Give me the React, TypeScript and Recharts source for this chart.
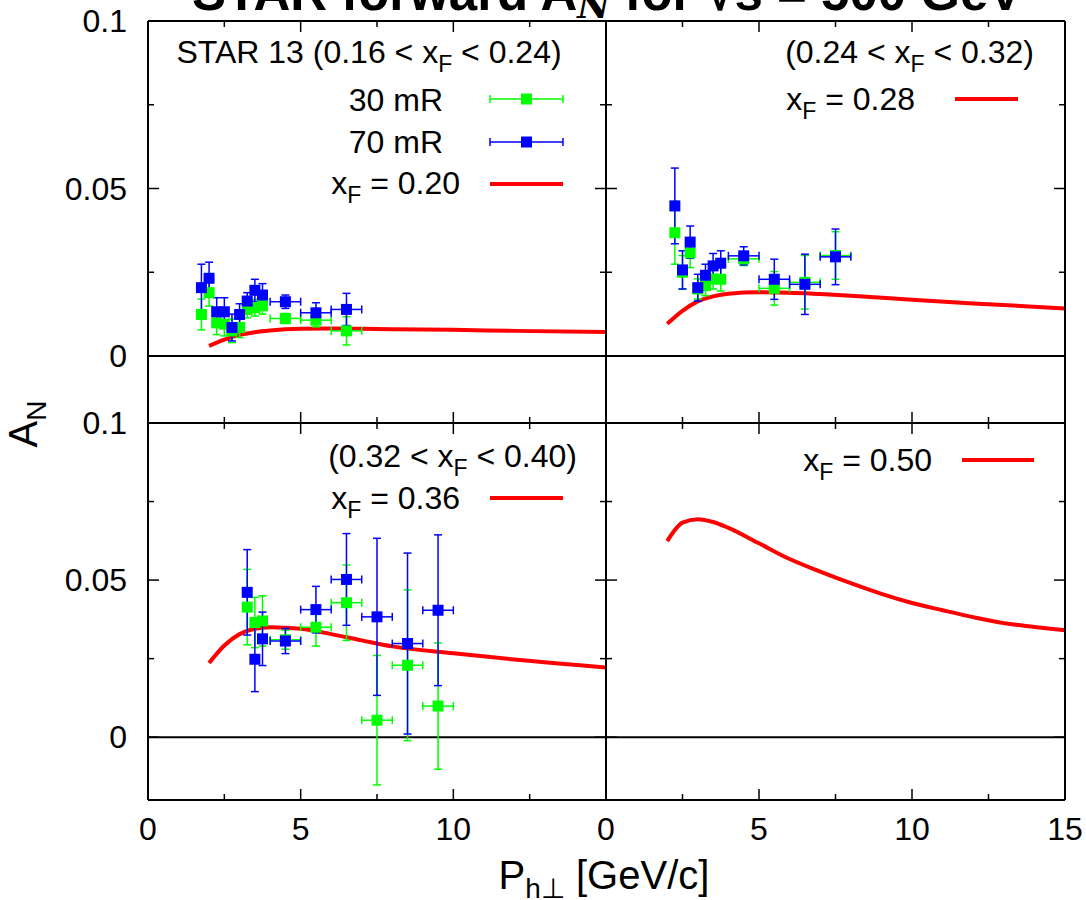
import React from 'react'
import {
  ComposedChart,
  Scatter,
  Line,
  XAxis,
  YAxis,
  ErrorBar,
  ReferenceLine,
} from 'recharts'

const W = 1086
const H = 900
const FONT = '"Liberation Sans", Arial, Helvetica, sans-serif'
const GREEN = '#00ff00'
const BLUE = '#0000ff'
const RED = '#ff0000'

const X_TICKS = [0, 2.5, 5, 7.5, 10, 12.5, 15]
const Y_TICKS = [0, 0.025, 0.05, 0.075, 0.1]

// 0.16 < xF < 0.24
const ptA = [1.75, 2.0, 2.25, 2.5, 2.75, 3.0, 3.25, 3.5, 3.75, 4.5, 5.5, 6.5]
const ptErrA = [0.125, 0.125, 0.125, 0.125, 0.125, 0.125, 0.125, 0.125, 0.125, 0.5, 0.5, 0.5]
const an30A = [0.0124, 0.0189, 0.0099, 0.0095, 0.0075, 0.0085, 0.0139, 0.0144, 0.015, 0.0112, 0.0107, 0.0075]
const err30A = [0.0046, 0.004, 0.0035, 0.0035, 0.0035, 0.003, 0.0025, 0.0025, 0.0025, 0.0015, 0.002, 0.0042]
const an70A = [0.0204, 0.0232, 0.0132, 0.0132, 0.0085, 0.0124, 0.0164, 0.0196, 0.0182, 0.0162, 0.0129, 0.0139]
const err70A = [0.007, 0.0048, 0.0042, 0.0042, 0.004, 0.0032, 0.0025, 0.0033, 0.0034, 0.002, 0.003, 0.0048]

// 0.24 < xF < 0.32
const ptB = [2.25, 2.5, 2.75, 3.0, 3.25, 3.5, 3.75, 4.5, 5.5, 6.5, 7.5]
const ptErrB = [0.125, 0.125, 0.125, 0.125, 0.125, 0.125, 0.125, 0.5, 0.5, 0.5, 0.5]
const an30B = [0.0368, 0.025, 0.0308, 0.02, 0.021, 0.023, 0.0229, 0.029, 0.0202, 0.022, 0.03]
const err30B = [0.0094, 0.005, 0.0044, 0.003, 0.003, 0.003, 0.0035, 0.002, 0.005, 0.008, 0.0071]
const an70B = [0.0448, 0.0257, 0.034, 0.0204, 0.0241, 0.0269, 0.0277, 0.0299, 0.0229, 0.0214, 0.0296]
const err70B = [0.0113, 0.0057, 0.0048, 0.004, 0.0033, 0.0037, 0.0037, 0.0027, 0.006, 0.009, 0.0083]

// 0.32 < xF < 0.40
const ptC = [3.25, 3.5, 3.75, 4.5, 5.5, 6.5, 7.5, 8.5, 9.5]
const ptErrC = [0.125, 0.125, 0.125, 0.5, 0.5, 0.5, 0.5, 0.5, 0.5]
const an30C = [0.0414, 0.0365, 0.037, 0.031, 0.035, 0.0428, 0.0054, 0.0229, 0.0099]
const err30C = [0.012, 0.008, 0.008, 0.003, 0.006, 0.012, 0.0206, 0.024, 0.0201]
const an70C = [0.0461, 0.0248, 0.0313, 0.0306, 0.0406, 0.0502, 0.0383, 0.0298, 0.0404]
const err70C = [0.0136, 0.0103, 0.0085, 0.004, 0.0074, 0.0146, 0.025, 0.0288, 0.024]

// model curves
const curveX = [2, 2.5, 3, 3.5, 4, 5, 6, 7, 8, 10, 12, 15]
const theory20 = [0.003, 0.0049, 0.0063, 0.0071, 0.0076, 0.0081, 0.0082, 0.0081, 0.008, 0.0078, 0.0075, 0.0072]
const theory28 = [0.0096, 0.0135, 0.0163, 0.0178, 0.0186, 0.019, 0.0189, 0.0185, 0.018, 0.0168, 0.0157, 0.0142]
const theory36 = [0.0236, 0.0292, 0.0328, 0.0345, 0.035, 0.0345, 0.0328, 0.0308, 0.0289, 0.0267, 0.0247, 0.0222]
const curveX50 = [2, 2.5, 3, 3.5, 4, 5, 6, 7, 8, 9, 10, 11, 12, 13, 14, 15]
const theory50 = [0.0624, 0.0683, 0.0694, 0.0685, 0.0666, 0.0617, 0.0567, 0.0527, 0.049, 0.0456, 0.0427, 0.0404, 0.0382, 0.0363, 0.0351, 0.034]

type Pt = { x: number; y: number; xe: number; ye: number }

function points(xs: number[], xe: number[], ys: number[], ye: number[]): Pt[] {
  return xs.map((x, i) => ({ x, y: ys[i], xe: xe[i], ye: ye[i] }))
}

function curve(xs: number[], ys: number[]) {
  return xs.map((x, i) => ({ x, y: ys[i] }))
}

const isMajorX = (v: number) => Math.abs(v % 5) < 1e-9
const isMajorY = (v: number) => Math.abs(v / 0.05 - Math.round(v / 0.05)) < 1e-9

function BottomTick(props: any) {
  const { x, y, payload, labels } = props
  const v = payload.value
  const major = isMajorX(v)
  const show = major && (labels === 'all' || (labels === 'noLast' && v !== 15))
  return (
    <g>
      <line x1={x} y1={y} x2={x} y2={y - (major ? 11 : 6)} stroke="#000" strokeWidth={1.5} />
      {show && (
        <text x={x} y={y + 40} textAnchor="middle" fontSize={32} fontFamily={FONT} fill="#000">
          {v}
        </text>
      )}
    </g>
  )
}

function TopTick(props: any) {
  const { x, y, payload } = props
  const major = isMajorX(payload.value)
  return <line x1={x} y1={y} x2={x} y2={y + (major ? 11 : 6)} stroke="#000" strokeWidth={1.5} />
}

function LeftTick(props: any) {
  const { x, y, payload, labels } = props
  const v = payload.value
  const major = isMajorY(v)
  return (
    <g>
      <line x1={x} y1={y} x2={x + (major ? 11 : 6)} y2={y} stroke="#000" strokeWidth={1.5} />
      {labels && major && (
        <text x={x - 21} y={y + 11} textAnchor="end" fontSize={32} fontFamily={FONT} fill="#000">
          {v === 0 ? '0' : String(v)}
        </text>
      )}
    </g>
  )
}

function RightTick(props: any) {
  const { x, y, payload } = props
  const major = isMajorY(payload.value)
  return <line x1={x} y1={y} x2={x - (major ? 11 : 6)} y2={y} stroke="#000" strokeWidth={1.5} />
}

const square = (color: string) => (p: any) =>
  <rect x={p.cx - 5.5} y={p.cy - 5.5} width={11} height={11} fill={color} />

interface PanelProps {
  box: { left: number; top: number; right: number; bottom: number }
  xLabels: 'none' | 'all' | 'noLast'
  yLabels: boolean
  model: { x: number; y: number }[]
  set30?: Pt[]
  set70?: Pt[]
}

// each panel is a full-page chart; the margins put its plot box in place
// (every axis takes 1px, so the margins are one less)
function Panel({ box, xLabels, yLabels, model, set30, set70 }: PanelProps) {
  const axisLine = { stroke: '#000', strokeWidth: 2 }
  return (
    <div style={{ position: 'absolute', left: 0, top: 0 }}>
      <ComposedChart
        width={W}
        height={H}
        margin={{ top: box.top - 1, left: box.left - 1, right: W - box.right - 1, bottom: H - box.bottom - 1 }}
      >
        <XAxis xAxisId="b" dataKey="x" type="number" domain={[0, 15]} ticks={X_TICKS} interval={0}
          height={1} tickSize={0} tickMargin={0} tickLine={false} axisLine={axisLine}
          tick={<BottomTick labels={xLabels} />} allowDataOverflow />
        <XAxis xAxisId="t" orientation="top" dataKey="x" type="number" domain={[0, 15]} ticks={X_TICKS} interval={0}
          height={1} tickSize={0} tickMargin={0} tickLine={false} axisLine={axisLine}
          tick={<TopTick />} allowDataOverflow />
        <YAxis yAxisId="l" dataKey="y" type="number" domain={[-0.02, 0.1]} ticks={Y_TICKS} interval={0}
          width={1} tickSize={0} tickMargin={0} tickLine={false} axisLine={axisLine}
          tick={<LeftTick labels={yLabels} />} allowDataOverflow />
        <YAxis yAxisId="r" orientation="right" dataKey="y" type="number" domain={[-0.02, 0.1]} ticks={Y_TICKS} interval={0}
          width={1} tickSize={0} tickMargin={0} tickLine={false} axisLine={axisLine}
          tick={<RightTick />} allowDataOverflow />
        <ReferenceLine xAxisId="b" yAxisId="l" y={0} stroke="#000" strokeWidth={2} />
        <Line xAxisId="b" yAxisId="l" data={model} dataKey="y" type="monotone" stroke={RED}
          strokeWidth={4} dot={false} activeDot={false} isAnimationActive={false} />
        {set30 && (
          <Scatter xAxisId="b" yAxisId="l" data={set30} dataKey="y" shape={square(GREEN)} isAnimationActive={false}>
            <ErrorBar dataKey="ye" direction="y" width={4} stroke={GREEN} strokeWidth={1.5} />
            <ErrorBar dataKey="xe" direction="x" width={4} stroke={GREEN} strokeWidth={1.5} />
          </Scatter>
        )}
        {set70 && (
          <Scatter xAxisId="b" yAxisId="l" data={set70} dataKey="y" shape={square(BLUE)} isAnimationActive={false}>
            <ErrorBar dataKey="ye" direction="y" width={4} stroke={BLUE} strokeWidth={1.5} />
            <ErrorBar dataKey="xe" direction="x" width={4} stroke={BLUE} strokeWidth={1.5} />
          </Scatter>
        )}
      </ComposedChart>
    </div>
  )
}

function XF({ v }: { v: string }) {
  return (
    <>
      x<tspan dy={9} fontSize={23}>F</tspan>
      <tspan dy={-9}>{v}</tspan>
    </>
  )
}

function ErrSample({ x1, x2, y, color }: { x1: number; x2: number; y: number; color: string }) {
  const mid = (x1 + x2) / 2
  return (
    <g stroke={color} strokeWidth={1.5}>
      <line x1={x1} y1={y} x2={x2} y2={y} />
      <line x1={x1} y1={y - 4} x2={x1} y2={y + 4} />
      <line x1={x2} y1={y - 4} x2={x2} y2={y + 4} />
      <rect x={mid - 5.5} y={y - 5.5} width={11} height={11} fill={color} stroke="none" />
    </g>
  )
}

export default function App() {
  const txt = { fontSize: 32, fontFamily: FONT, fill: '#000' }
  const big = { fontSize: 40, fontFamily: FONT, fill: '#000' }
  return (
    <div style={{ position: 'absolute', left: 0, top: 0, width: W, height: H, background: '#fff', overflow: 'hidden' }}>
      <Panel box={{ left: 148, top: 21, right: 606, bottom: 423 }} xLabels="none" yLabels
        model={curve(curveX, theory20)} set30={points(ptA, ptErrA, an30A, err30A)} set70={points(ptA, ptErrA, an70A, err70A)} />
      <Panel box={{ left: 606, top: 21, right: 1065, bottom: 423 }} xLabels="none" yLabels={false}
        model={curve(curveX, theory28)} set30={points(ptB, ptErrB, an30B, err30B)} set70={points(ptB, ptErrB, an70B, err70B)} />
      <Panel box={{ left: 148, top: 423, right: 606, bottom: 800 }} xLabels="noLast" yLabels
        model={curve(curveX, theory36)} set30={points(ptC, ptErrC, an30C, err30C)} set70={points(ptC, ptErrC, an70C, err70C)} />
      <Panel box={{ left: 606, top: 423, right: 1065, bottom: 800 }} xLabels="all" yLabels={false}
        model={curve(curveX50, theory50)} />

      <svg width={W} height={H} style={{ position: 'absolute', left: 0, top: 0, pointerEvents: 'none' }}>
        {/* title, cut off at the top edge as in the source figure */}
        <text x={192} y={10} textAnchor="start" fontSize={51} fontWeight="bold" fontFamily={FONT} fill="#000">
          STAR forward A<tspan dy={8} fontSize={36} fontStyle="italic" fontFamily="'DejaVu Serif', serif">N</tspan>
          <tspan dy={-8}> for √s = 500 GeV</tspan>
        </text>

        {/* top-left legend */}
        <text x={369} y={63} textAnchor="middle" {...txt}>
          STAR 13 (0.16 &lt; <XF v=" < 0.24)" />
        </text>
        <text x={443} y={111} textAnchor="end" {...txt}>30 mR</text>
        <ErrSample x1={490} x2={563} y={99} color={GREEN} />
        <text x={443} y={153} textAnchor="end" {...txt}>70 mR</text>
        <ErrSample x1={490} x2={563} y={142} color={BLUE} />
        <text x={460} y={194} textAnchor="end" {...txt}><XF v=" = 0.20" /></text>
        <line x1={490} y1={184} x2={563} y2={184} stroke={RED} strokeWidth={4} />

        {/* top-right legend */}
        <text x={1034} y={63} textAnchor="end" {...txt}>(0.24 &lt; <XF v=" < 0.32)" /></text>
        <text x={915} y={110} textAnchor="end" {...txt}><XF v=" = 0.28" /></text>
        <line x1={955} y1={99} x2={1018} y2={99} stroke={RED} strokeWidth={4} />

        {/* bottom-left legend */}
        <text x={577} y={467} textAnchor="end" {...txt}>(0.32 &lt; <XF v=" < 0.40)" /></text>
        <text x={460} y={509} textAnchor="end" {...txt}><XF v=" = 0.36" /></text>
        <line x1={490} y1={498} x2={563} y2={498} stroke={RED} strokeWidth={4} />

        {/* bottom-right legend */}
        <text x={932} y={471} textAnchor="end" {...txt}><XF v=" = 0.50" /></text>
        <line x1={962} y1={460} x2={1034} y2={460} stroke={RED} strokeWidth={4} />

        {/* axis titles */}
        <text x={37} y={424} textAnchor="middle" transform="rotate(-90 37 424)" {...big}>
          A<tspan dy={9} fontSize={28}>N</tspan>
        </text>
        <text x={604} y={889} textAnchor="middle" {...big}>
          P<tspan dy={9} fontSize={28}>h⊥</tspan>
          <tspan dy={-9}> [GeV/c]</tspan>
        </text>
      </svg>
    </div>
  )
}
